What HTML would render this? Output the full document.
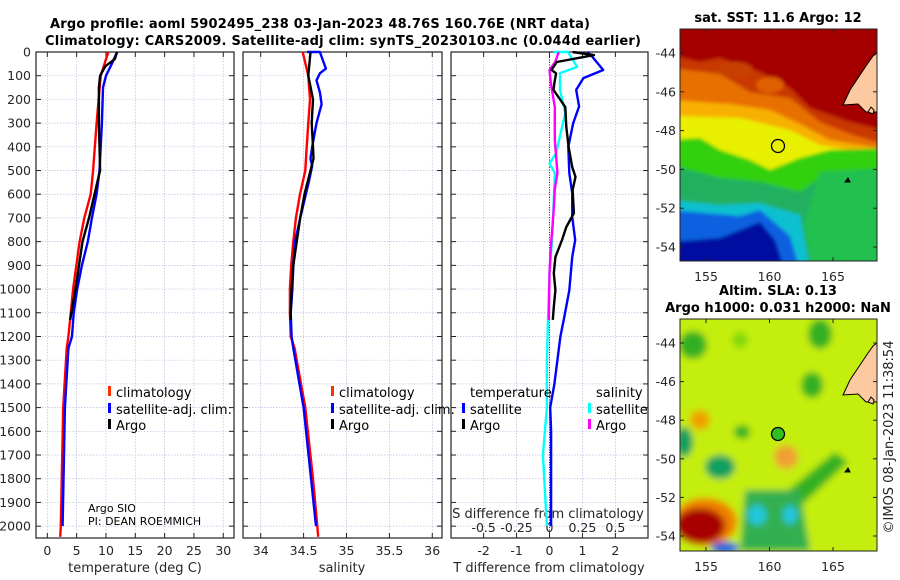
<!DOCTYPE html>
<html><head><meta charset="utf-8"><style>
html,body{margin:0;padding:0;background:#fff;}
svg{display:block;font-family:"DejaVu Sans","Liberation Sans",sans-serif;}
.tk{font-size:12.5px;fill:#262626;}
.ttl{font-size:13px;font-weight:bold;fill:#000;}
.lg{font-size:13px;fill:#000;}
</style></head><body>
<svg id="c" width="900" height="580" viewBox="0 0 900 580" xmlns="http://www.w3.org/2000/svg">
<defs>
<filter id="bl" x="-5%" y="-5%" width="110%" height="110%"><feGaussianBlur stdDeviation="1.8"/></filter>
<filter id="bl2" x="-20%" y="-20%" width="140%" height="140%"><feGaussianBlur stdDeviation="3.5"/></filter>
<clipPath id="cm1"><rect x="680" y="29" width="197" height="232"/></clipPath>
<clipPath id="cm2"><rect x="680" y="319" width="197" height="232"/></clipPath>
</defs>
<text class="ttl" x="50" y="28" textLength="540">Argo profile: aoml 5902495_238 03-Jan-2023 48.76S 160.76E (NRT data)</text>
<text class="ttl" x="45" y="45" textLength="596">Climatology: CARS2009. Satellite-adj clim: synTS_20230103.nc (0.044d earlier)</text>

<!-- SST map -->
<g>
<g clip-path="url(#cm1)"><g filter="url(#bl)">
<rect x="670" y="20" width="220" height="250" fill="#a50000"/>
<polygon fill="#c83800" points="670,55 700,62 720,58 760,72 790,88 810,108 850,122 890,132 890,270 670,270"/>
<polygon fill="#e87000" points="670,68 720,74 750,92 790,98 820,122 850,134 890,146 890,270 670,270"/>
<polygon fill="#f8b000" points="670,100 730,104 770,110 800,124 830,140 890,150 890,270 670,270"/>
<polygon fill="#e8f000" points="670,116 740,118 790,130 820,145 850,150 890,150 890,270 670,270"/>
<polygon fill="#30d010" points="670,140 700,138 720,150 750,160 770,170 800,158 830,150 890,148 890,270 670,270"/>
<polygon fill="#20b060" points="670,165 720,178 760,182 800,192 820,178 890,180 890,270 670,270"/>
<polygon fill="#10c0d0" points="670,200 720,205 760,203 800,215 810,270 670,270"/>
<polygon fill="#1060e0" points="670,210 740,216 760,210 790,236 800,270 670,270"/>
<polygon fill="#0010a0" points="670,242 720,238 760,222 775,240 785,270 670,270"/>
<polygon fill="#20c050" points="820,172 890,168 890,270 812,270 805,222"/>
<ellipse cx="735" cy="70" rx="18" ry="8" fill="#c84000"/>
<ellipse cx="770" cy="85" rx="14" ry="8" fill="#e06000"/>
</g>
<path d="M843,105 L850,90 L858,78 L866,66 L873,56 L877,53 L877,112 L866,112 L858,104 Z" fill="#fdc9a0" stroke="#000" stroke-width="1"/>
<path d="M868,112 l3,-5 l3,3 l-1,4 z" fill="#fdc9a0" stroke="#000"/>
<path d="M845,182 l3,-4 l2,4 z" fill="#000" stroke="#000"/>
</g>
<circle cx="778" cy="146" r="6.5" fill="none" stroke="#000" stroke-width="1.3"/>
<rect x="680" y="29" width="197" height="232" fill="none" stroke="#222"/>
<text class="ttl" x="778" y="22" text-anchor="middle">sat. SST: 11.6 Argo: 12</text>
</g>

<!-- SLA map -->
<g>
<g clip-path="url(#cm2)"><g filter="url(#bl2)">
<rect x="670" y="310" width="220" height="250" fill="#c4ee10"/>
<ellipse cx="693" cy="345" rx="14" ry="14" fill="#30b020"/>
<ellipse cx="740" cy="340" rx="8" ry="8" fill="#80d810"/>
<ellipse cx="820" cy="334" rx="12" ry="15" fill="#30b020"/>
<ellipse cx="812" cy="385" rx="11" ry="13" fill="#30b020"/>
<ellipse cx="742" cy="432" rx="8" ry="7" fill="#30b020"/>
<ellipse cx="684" cy="442" rx="9" ry="15" fill="#10a060"/>
<ellipse cx="720" cy="467" rx="15" ry="12" fill="#10a060"/>
<polygon points="770,505 835,452 848,462 788,518" fill="#30b020"/>
<polygon points="745,490 800,490 810,551 740,551" fill="#30b050"/>
<ellipse cx="757" cy="515" rx="9" ry="10" fill="#20c8e0"/>
<ellipse cx="790" cy="515" rx="7" ry="9" fill="#20c8e0"/>
<ellipse cx="700" cy="420" rx="10" ry="10" fill="#f0a000"/>
<ellipse cx="786" cy="457" rx="12" ry="12" fill="#f0a030"/>
<ellipse cx="705" cy="522" rx="32" ry="24" fill="#f08000"/>
<ellipse cx="700" cy="526" rx="25" ry="18" fill="#a80000"/>
<ellipse cx="725" cy="548" rx="14" ry="6" fill="#1060e0"/>
</g>
<path d="M843,395 L850,380 L858,368 L866,356 L873,346 L877,343 L877,402 L866,402 L858,394 Z" fill="#fdc9a0" stroke="#000" stroke-width="1"/>
<path d="M868,402 l3,-5 l3,3 l-1,4 z" fill="#fdc9a0" stroke="#000"/>
<path d="M845,472 l3,-4 l2,4 z" fill="#000" stroke="#000"/>
</g>
<circle cx="778" cy="434" r="6.5" fill="#30c020" stroke="#000" stroke-width="1.3"/>
<rect x="680" y="319" width="197" height="232" fill="none" stroke="#222"/>
<text class="ttl" x="778" y="295" text-anchor="middle">Altim. SLA: 0.13</text>
<text class="ttl" x="778" y="312" text-anchor="middle">Argo h1000: 0.031 h2000: NaN</text>
</g>
<text x="0" y="0" transform="translate(893,437) rotate(-90)" text-anchor="middle" style="font-size:13px" fill="#222">©IMOS 08-Jan-2023 11:38:54</text>
<text x="88" y="512" style="font-size:11px">Argo SIO</text>
<text x="88" y="525" style="font-size:11px">PI: DEAN ROEMMICH</text>
</svg>
<script>
// ---- data ----
const tempClimDepth = [0,100,300,500,600,700,800,1000,1100,1200,1250,1500,2000,2045];
const tempClim = [10.4,9.1,8.4,7.8,7.4,6.3,5.5,4.4,4.0,3.6,3.3,2.7,2.3,2.2];
const tempSatDepth = [0,50,100,150,300,500,600,700,800,900,1000,1100,1200,1250,1500,2000];
const tempSat = [11.9,11.0,10.0,9.5,9.3,8.9,8.4,7.6,6.9,5.9,5.1,4.5,4.2,3.6,3.0,2.6];
const tempArgoDepth = [0,30,60,100,150,300,500,520,700,800,1000,1100,1130];
const tempArgo = [11.9,11.5,9.9,9.0,8.8,8.8,9.0,8.8,7.1,6.0,4.8,4.1,3.9];
const salClimDepth = [0,100,200,300,400,500,600,700,800,900,1000,1100,1200,1250,1500,1800,2000,2045];
const salClim = [34.49,34.555,34.575,34.555,34.536,34.52,34.458,34.41,34.38,34.355,34.34,34.34,34.35,34.395,34.52,34.61,34.66,34.67];
const salSatDepth = [0,0,70,90,120,170,220,300,400,450,480,550,700,800,900,1000,1100,1200,1250,1500,2000];
const salSat = [34.54,34.69,34.76,34.69,34.65,34.69,34.71,34.65,34.6,34.58,34.6,34.56,34.46,34.4,34.38,34.37,34.35,34.36,34.38,34.5,34.645];
const salArgoDepth = [0,100,200,300,400,450,500,600,700,800,900,1000,1100,1130];
const salArgo = [34.58,34.555,34.61,34.595,34.61,34.615,34.58,34.51,34.46,34.42,34.38,34.36,34.35,34.35];
const dTSatDepth = [0,20,76,110,160,230,300,400,510,595,695,793,865,1005,1118,1200,1400,1500,1600,2000];
const dTSat = [1.15,1.3,1.63,1.03,0.81,0.9,0.72,0.57,0.6,0.69,0.69,0.78,0.69,0.6,0.45,0.33,0.15,0.02,0.05,0.05];
const dTArgoDepth = [0,13,42,76,90,130,160,232,316,400,485,527,582,680,738,793,865,933,1004,1075,1130];
const dTArgo = [0.7,1.35,0.22,0.06,0.2,0.15,0.12,0.48,0.51,0.58,0.69,0.79,0.7,0.74,0.51,0.38,0.18,0.13,0.18,0.13,0.1];
const dSSatDepth = [0,0,63,89,160,258,329,427,470,510,654,793,930,1100,1300,1500,1700,2000];
const dSSat = [0.03,0.14,0.21,0.08,0.08,0.12,0.09,0.05,0.0,0.04,0.03,0.02,0.0,-0.01,-0.02,-0.02,-0.05,-0.02];
const dSArgoDepth = [0,40,76,130,232,371,440,510,580,680,823,933,1130];
const dSArgo = [0.07,0.045,0.0,0.01,0.04,0.04,0.05,0.06,0.04,0.03,0.01,0.0,-0.005];
const depthTicks = [0,100,200,300,400,500,600,700,800,900,1000,1100,1200,1300,1400,1500,1600,1700,1800,1900,2000];
const tempTicks = [0,5,10,15,20,25,30];
const salTicks = [34,34.5,35,35.5,36];
const salTickLabels = ["34","34.5","35","35.5","36"];
const dTTicks = [-2,-1,0,1,2];
const dSTicks = [-0.5,-0.25,0,0.25,0.5];
const dSTickLabels = ["-0.5","-0.25","0","0.25","0.5"];
const latTicks = [-44,-46,-48,-50,-52,-54];
const lonTicks = [155,160,165];

// ---- axes ----
const svg = document.getElementById('c');
const NS = 'http://www.w3.org/2000/svg';
const TOP = 52, BOT = 538;
const yD = d => TOP + d * (BOT - TOP) / 2050;
function lin(d0, d1, r0, r1) { return v => r0 + (v - d0) * (r1 - r0) / (d1 - d0); }
const P = [
  {x0:36, x1:234, f:lin(-2,32,35.6,235)},
  {x0:243, x1:442, f:lin(33.797,36.11,243.3,441.7)},
  {x0:451, x1:648, f:lin(-3,3,450.7,648.3)}
];
const fS = lin(-0.75,0.75,450.7,648.3);
function mk(tag, attrs, parent) {
  const e = document.createElementNS(NS, tag);
  for (const k in attrs) e.setAttribute(k, attrs[k]);
  (parent || svg).appendChild(e);
  return e;
}
P.forEach((p, i) => {
  const g = mk('g', {});
  
  
  const ticksX = i === 0 ? tempTicks : i === 1 ? salTicks : dTTicks;
  depthTicks.forEach(d => {
    const y = yD(d);
    mk('line', {x1:p.x0, x2:p.x1, y1:y, y2:y, stroke:'#b8c0e0', 'stroke-width':0.7, 'stroke-dasharray':'1.5,1.5'}, g);
    mk('line', {x1:p.x0, x2:p.x0 + 5, y1:y, y2:y, stroke:'#222'}, g);
    mk('line', {x1:p.x1, x2:p.x1 - 5, y1:y, y2:y, stroke:'#222'}, g);
  });
  ticksX.forEach(v => {
    const x = p.f(v);
    mk('line', {x1:x, x2:x, y1:TOP, y2:BOT, stroke:'#b8c0e0', 'stroke-width':0.7, 'stroke-dasharray':'1.5,1.5'}, g);
    mk('line', {x1:x, x2:x, y1:TOP, y2:TOP + 5, stroke:'#222'}, g);
    mk('line', {x1:x, x2:x, y1:BOT, y2:BOT - 5, stroke:'#222'}, g);
    const t = mk('text', {x:x, y:555, 'text-anchor':'middle', class:'tk'}, g);
    t.textContent = i === 1 ? salTickLabels[salTicks.indexOf(v)] : String(v);
  });
  if (i === 2) {
    mk('line', {x1:p.f(0), x2:p.f(0), y1:TOP, y2:BOT, stroke:'#333', 'stroke-width':1, 'stroke-dasharray':'1,1.5'}, g);
    dSTicks.forEach((v, k) => {
      const t = mk('text', {x:fS(v), y:532, 'text-anchor':'middle', class:'tk'}, g);
      t.textContent = dSTickLabels[k];
    });
  }
  mk('rect', {x:p.x0, y:TOP, width:p.x1 - p.x0, height:BOT - TOP, fill:'none', stroke:'#222', 'stroke-width':1.2}, g);
});
depthTicks.forEach(d => {
  const t = mk('text', {x:31, y:yD(d) + 4.5, 'text-anchor':'end', class:'tk'});
  
  
  t.textContent = d;
});
[[135,'temperature (deg C)','x-axis-title-temperature'],[342,'salinity','x-axis-title-salinity'],[549,'T difference from climatology','x-axis-title-t-diff']].forEach(a => {
  const t = mk('text', {x:a[0], y:572, 'text-anchor':'middle', class:'tk', style:'font-size:13px'});
  
  
  t.textContent = a[1];
});
const st = mk('text', {x:548, y:518, 'text-anchor':'middle', class:'tk', style:'font-size:13px'});


st.textContent = 'S difference from climatology';

function series(xs, ds, fx, color, name) {
  const pts = xs.map((v, k) => fx(v).toFixed(1) + ',' + yD(ds[k]).toFixed(1)).join(' ');
  const pl = mk('polyline', {points:pts, fill:'none', stroke:color, 'stroke-width':2.4, 'stroke-linejoin':'round'});
  
  
}
series(tempClim, tempClimDepth, P[0].f, '#ff0000', 'temp-climatology-line');
series(tempSat, tempSatDepth, P[0].f, '#0000ff', 'temp-satellite-line');
series(tempArgo, tempArgoDepth, P[0].f, '#000000', 'temp-argo-line');
series(salClim, salClimDepth, P[1].f, '#ff0000', 'sal-climatology-line');
series(salSat, salSatDepth, P[1].f, '#0000ff', 'sal-satellite-line');
series(salArgo, salArgoDepth, P[1].f, '#000000', 'sal-argo-line');
series(dSSat, dSSatDepth, fS, '#00ffff', 'sdiff-satellite-line');
series(dSArgo, dSArgoDepth, fS, '#ff00ff', 'sdiff-argo-line');
series(dTSat, dTSatDepth, P[2].f, '#0000ff', 'tdiff-satellite-line');
series(dTArgo, dTArgoDepth, P[2].f, '#000000', 'tdiff-argo-line');

function legendRow(x, y, color, label, name) {
  const g = mk('g', {});
  
  
  if (color) mk('rect', {x:x, y:y - 11, width:3, height:10, fill:color}, g);
  const t = mk('text', {x:x + 8, y:y, class:'lg'}, g);
  t.textContent = label;
}
legendRow(108, 397, '#ff3000', 'climatology', 'legend-temp-climatology');
legendRow(108, 414, '#0000ff', 'satellite-adj. clim.', 'legend-temp-satellite');
legendRow(108, 430, '#000', 'Argo', 'legend-temp-argo');
legendRow(331, 397, '#ff3000', 'climatology', 'legend-sal-climatology');
legendRow(331, 414, '#0000ff', 'satellite-adj. clim.', 'legend-sal-satellite');
legendRow(331, 430, '#000', 'Argo', 'legend-sal-argo');
legendRow(462, 397, null, 'temperature', 'legend-tdiff-header');
legendRow(462, 414, '#0000ff', 'satellite', 'legend-tdiff-satellite');
legendRow(462, 430, '#000', 'Argo', 'legend-tdiff-argo');
legendRow(588, 397, null, 'salinity', 'legend-sdiff-header');
legendRow(588, 414, '#00ffff', 'satellite', 'legend-sdiff-satellite');
legendRow(588, 430, '#ff00ff', 'Argo', 'legend-sdiff-argo');

// map ticks
const lonX = lin(155,165,706,833);
[[29,261,lin(-44,-54,53,247),281],[319,551,lin(-44,-54,343,536),571]].forEach((m, i) => {
  latTicks.forEach(v => {
    const y = m[2](v);
    mk('line', {x1:680, x2:684, y1:y, y2:y, stroke:'#222'});
    mk('line', {x1:877, x2:873, y1:y, y2:y, stroke:'#222'});
    const t = mk('text', {x:676, y:y + 4.5, 'text-anchor':'end', class:'tk'});
    
    
    t.textContent = v;
  });
  lonTicks.forEach(v => {
    const x = lonX(v);
    mk('line', {x1:x, x2:x, y1:m[1], y2:m[1] - 4, stroke:'#222'});
    mk('line', {x1:x, x2:x, y1:m[0], y2:m[0] + 4, stroke:'#222'});
    const t = mk('text', {x:x, y:m[3], 'text-anchor':'middle', class:'tk'});
    
    
    t.textContent = v;
  });
});
</script>
</body></html>
